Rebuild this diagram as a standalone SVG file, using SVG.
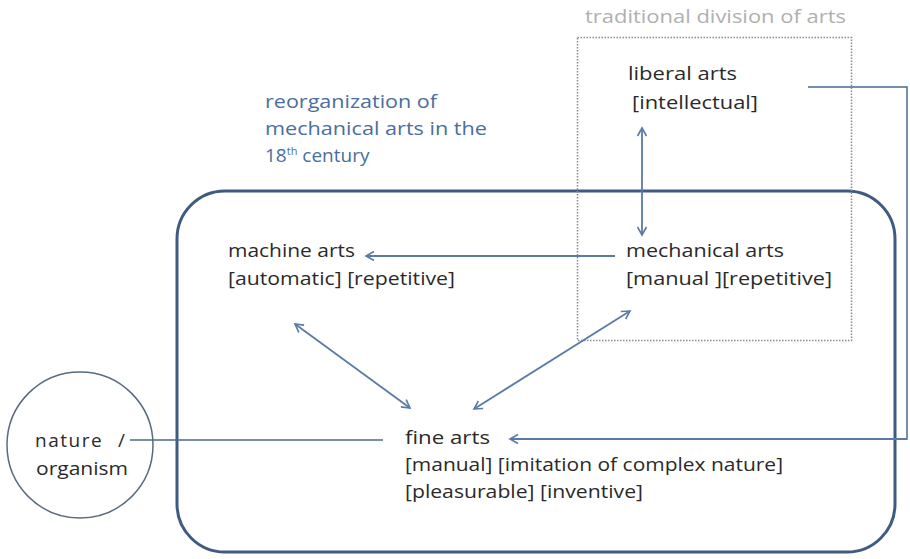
<svg xmlns="http://www.w3.org/2000/svg" width="910" height="559" viewBox="0 0 910 559">
<defs>
<marker id="ah" markerWidth="12" markerHeight="12" refX="10" refY="6" orient="auto-start-reverse" markerUnits="userSpaceOnUse">
<polyline points="2,1.5 10,6 2,10.5" fill="none" stroke="#5a7aa8" stroke-width="1.6"/>
</marker>
</defs>
<style>
text{font-family:"Open Sans","DejaVu Sans",sans-serif;font-size:19px;fill:#2a2a2a}
.blue{fill:#4a6e9e}
.gray{fill:#b0b0b0;font-size:18px}
.ln{stroke:#4a6a94;stroke-width:1.5;fill:none}
.ar{stroke:#5a7aa8;stroke-width:1.8;fill:none}
</style>
<rect width="910" height="559" fill="#ffffff"/>
<g id="main-frame">
<rect x="177" y="191" width="718" height="361" rx="48" ry="48" fill="none" stroke="#3f5b82" stroke-width="3"/>
</g>
<g id="traditional-division">
<rect x="577.5" y="37.5" width="274" height="303" fill="none" stroke="#8a8a8a" stroke-width="1.5" stroke-dasharray="1.5,1.5"/>
<text class="gray" x="585" y="23" textLength="261" lengthAdjust="spacingAndGlyphs">traditional division of arts</text>
</g>
<g id="reorganization-label">
<text class="blue" x="265" y="108" textLength="172" lengthAdjust="spacingAndGlyphs">reorganization of</text>
<text class="blue" x="265" y="135" textLength="222" lengthAdjust="spacingAndGlyphs">mechanical arts in the</text>
<text class="blue" x="265" y="162">18<tspan font-size="11" dy="-7">th</tspan><tspan dy="7"> century</tspan></text>
</g>
<g id="liberal-arts">
<text x="628" y="80" textLength="109" lengthAdjust="spacingAndGlyphs">liberal arts</text>
<text x="632" y="109" textLength="126" lengthAdjust="spacingAndGlyphs">[intellectual]</text>
</g>
<g id="mechanical-arts">
<text x="626" y="257" textLength="158" lengthAdjust="spacingAndGlyphs">mechanical arts</text>
<text x="626" y="285" textLength="206" lengthAdjust="spacingAndGlyphs">[manual ][repetitive]</text>
</g>
<g id="machine-arts">
<text x="228" y="257" textLength="127" lengthAdjust="spacingAndGlyphs">machine arts</text>
<text x="228" y="285" textLength="227" lengthAdjust="spacingAndGlyphs">[automatic] [repetitive]</text>
</g>
<g id="fine-arts">
<text x="405" y="444" textLength="85" lengthAdjust="spacingAndGlyphs">fine arts</text>
<text x="405" y="471" textLength="378" lengthAdjust="spacingAndGlyphs">[manual] [imitation of complex nature]</text>
<text x="405" y="498" textLength="238" lengthAdjust="spacingAndGlyphs">[pleasurable] [inventive]</text>
</g>
<g id="nature-organism">
<circle cx="80" cy="445" r="73" fill="none" stroke="#5a6a80" stroke-width="1.5"/>
<text x="35" y="447"><tspan letter-spacing="1.5">nature</tspan> <tspan x="118">/</tspan></text>
<text x="36" y="475" textLength="92" lengthAdjust="spacingAndGlyphs">organism</text>
</g>
<g id="connectors">
<polyline class="ln" points="808,87 907,87 907,439 512,439"/>
<line class="ar" x1="907" y1="439" x2="510" y2="439" marker-end="url(#ah)"/>
<line class="ln" x1="130" y1="440" x2="383" y2="440"/>
<line class="ar" x1="615" y1="256" x2="366" y2="256" marker-end="url(#ah)"/>
<line class="ar" x1="642" y1="128" x2="642" y2="235" marker-start="url(#ah)" marker-end="url(#ah)"/>
<line class="ar" x1="295" y1="324" x2="410" y2="408" marker-start="url(#ah)" marker-end="url(#ah)"/>
<line class="ar" x1="630" y1="311" x2="474" y2="409" marker-start="url(#ah)" marker-end="url(#ah)"/>
</g>
</svg>
